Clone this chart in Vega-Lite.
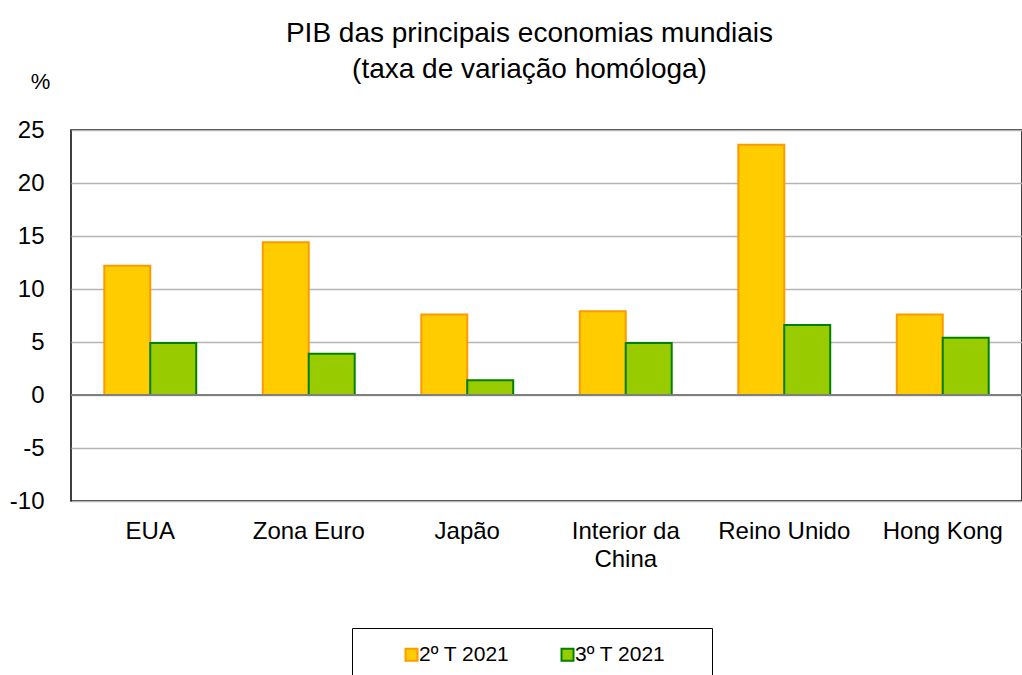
{
  "$schema": "https://vega.github.io/schema/vega-lite/v6.json",
  "autosize": "none",
  "padding": {"left": 71, "top": 130, "right": 0, "bottom": 174},
  "width": 951,
  "height": 371,
  "background": "white",
  "config": {
    "font": "Liberation Sans",
    "view": {"stroke": "#000000", "strokeWidth": 1.5},
    "axis": {"labelFont": "Liberation Sans", "labelColor": "#000000", "labelFontSize": 24, "titleFont": "Liberation Sans"},
    "legend": {"labelFont": "Liberation Sans", "titleFont": "Liberation Sans"}
  },
  "title": {
    "text": ["PIB das principais economias mundiais", "(taxa de variação homóloga)"],
    "fontSize": 28,
    "fontWeight": "normal",
    "font": "Liberation Sans",
    "color": "#000000",
    "anchor": "middle",
    "lineHeight": 36,
    "offset": -14,
    "dx": -17
  },
  "data": {
    "values": [
      {"pais": "EUA", "periodo": "2º T 2021", "valor": 12.2},
      {"pais": "EUA", "periodo": "3º T 2021", "valor": 4.9},
      {"pais": "Zona Euro", "periodo": "2º T 2021", "valor": 14.4},
      {"pais": "Zona Euro", "periodo": "3º T 2021", "valor": 3.9},
      {"pais": "Japão", "periodo": "2º T 2021", "valor": 7.6},
      {"pais": "Japão", "periodo": "3º T 2021", "valor": 1.4},
      {"pais": "Interior da China", "periodo": "2º T 2021", "valor": 7.9},
      {"pais": "Interior da China", "periodo": "3º T 2021", "valor": 4.9},
      {"pais": "Reino Unido", "periodo": "2º T 2021", "valor": 23.6},
      {"pais": "Reino Unido", "periodo": "3º T 2021", "valor": 6.6},
      {"pais": "Hong Kong", "periodo": "2º T 2021", "valor": 7.6},
      {"pais": "Hong Kong", "periodo": "3º T 2021", "valor": 5.4}
    ]
  },
  "layer": [
    {
      "mark": {"type": "bar", "strokeWidth": 2},
      "encoding": {
        "x": {
          "field": "pais",
          "type": "nominal",
          "sort": ["EUA", "Zona Euro", "Japão", "Interior da China", "Reino Unido", "Hong Kong"],
          "scale": {"paddingInner": 0.42, "paddingOuter": 0.21},
          "axis": {
            "title": null,
            "domain": false,
            "ticks": false,
            "labelAngle": 0,
            "labelPadding": 18,
            "labelLineHeight": 28,
            "labelExpr": "datum.value == 'Interior da China' ? ['Interior da', 'China'] : datum.value"
          }
        },
        "xOffset": {"field": "periodo", "type": "nominal", "scale": {"paddingInner": 0, "paddingOuter": 0}},
        "y": {
          "field": "valor",
          "type": "quantitative",
          "scale": {"domain": [-10, 25], "nice": false, "zero": false},
          "axis": {
            "values": [-10, -5, 0, 5, 10, 15, 20, 25],
            "labelExpr": "'' + datum.value",
            "domain": false,
            "ticks": false,
            "labelPadding": 27,
            "grid": true,
            "gridColor": "#b4b4b4",
            "gridWidth": 1.5,
            "title": "%",
            "titleAngle": 0,
            "titleFontSize": 22,
            "titleFontWeight": "normal",
            "titleColor": "#000000",
            "titleX": -31,
            "titleY": -42,
            "titleAlign": "center",
            "titleBaseline": "alphabetic"
          }
        },
        "fill": {
          "field": "periodo",
          "type": "nominal",
          "scale": {"domain": ["2º T 2021", "3º T 2021"], "range": ["#FFCC00", "#99CC00"]},
          "legend": {
            "title": "\u00a0",
            "titleOrient": "left",
            "titlePadding": 33,
            "titleFontSize": 21,
            "orient": "none",
            "direction": "horizontal",
            "legendX": 281,
            "legendY": 498,
            "strokeColor": "#000000",
            "padding": 16,
            "symbolType": "square",
            "symbolSize": 144,
            "symbolStrokeWidth": 2,
            "labelFontSize": 21,
            "labelColor": "#000000",
            "labelOffset": -3,
            "columnPadding": 47,
            "labelExpr": "datum.value == '3º T 2021' ? datum.label + '\u2800\u2800' : datum.label"
          }
        },
        "stroke": {
          "field": "periodo",
          "type": "nominal",
          "scale": {"domain": ["2º T 2021", "3º T 2021"], "range": ["#FF9900", "#008000"]},
          "legend": {
            "title": "\u00a0",
            "titleOrient": "left",
            "titlePadding": 33,
            "titleFontSize": 21,
            "orient": "none",
            "direction": "horizontal",
            "legendX": 281,
            "legendY": 498,
            "strokeColor": "#000000",
            "padding": 16,
            "symbolType": "square",
            "symbolSize": 144,
            "symbolStrokeWidth": 2,
            "labelFontSize": 21,
            "labelColor": "#000000",
            "labelOffset": -3,
            "columnPadding": 47,
            "labelExpr": "datum.value == '3º T 2021' ? datum.label + '\u2800\u2800' : datum.label"
          }
        }
      }
    },
    {
      "mark": {"type": "rule", "color": "#7f7f7f", "strokeWidth": 2},
      "encoding": {"y": {"datum": 0}}
    }
  ]
}
